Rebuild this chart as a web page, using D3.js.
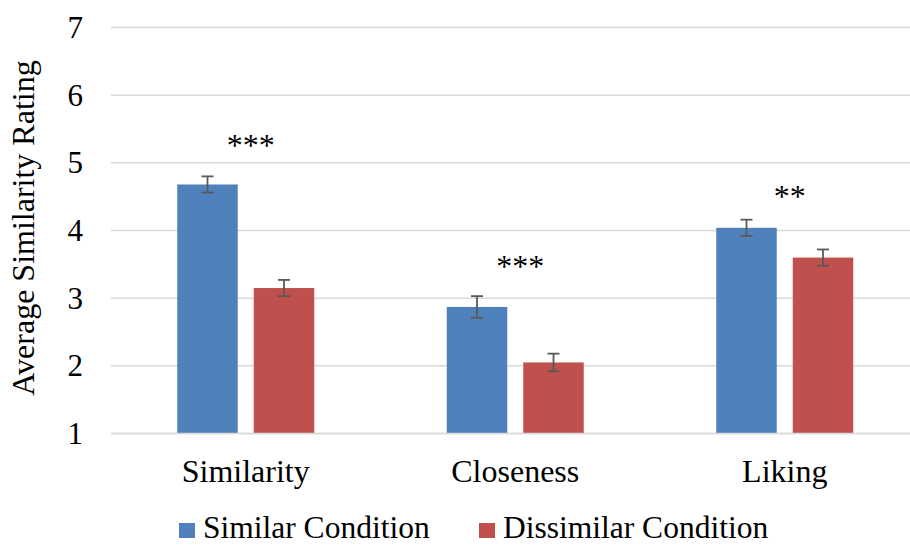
<!DOCTYPE html>
<html>
<head>
<meta charset="utf-8">
<script src="https://cdn.jsdelivr.net/npm/d3@7"></script>
<style>
  html, body { margin: 0; padding: 0; background: #ffffff; }
  svg { display: block; }
  text { font-family: "Liberation Serif", "Times New Roman", serif; fill: #000; }
</style>
</head>
<body>
<svg id="chart" width="910" height="546"></svg>
<script>
const categories = ["Similarity", "Closeness", "Liking"];
const seriesNames = ["Similar Condition", "Dissimilar Condition"];
const similarValues = [4.68, 2.87, 4.04];
const dissimilarValues = [3.15, 2.05, 3.60];
const similarErrors = [0.12, 0.16, 0.12];
const dissimilarErrors = [0.12, 0.13, 0.12];
const sigLabels = ["***", "***", "**"];
const sigY = [5.10, 3.31, 4.35];
const yTicks = [1, 2, 3, 4, 5, 6, 7];
const yTitle = "Average Similarity Rating";
const colors = ["#4f81bd", "#c0504d"];

const svg = d3.select("#chart");
const left = 111, step = 269.5;
const x0 = d3.scaleBand().domain(categories).range([left, left + step * categories.length]).padding(0);
const groupW = 137;
const x1 = d3.scaleBand().domain(seriesNames)
  .range([(step - groupW) / 2, (step + groupW) / 2]).paddingInner(16 / 76.5).paddingOuter(0);
const y = d3.scaleLinear().domain([1, 7]).range([433.5, 27.5]);

// gridlines
svg.append("g").selectAll("line").data(yTicks).join("line")
  .attr("x1", left).attr("x2", 910)
  .attr("y1", d => y(d)).attr("y2", d => y(d))
  .attr("stroke", "#d9d9d9").attr("stroke-width", 1.5);

// y tick labels
svg.append("g").selectAll("text").data(yTicks).join("text")
  .attr("x", 83).attr("y", d => y(d)).attr("dy", "0.34em")
  .attr("text-anchor", "end").attr("font-size", 31)
  .text(d => d);

// y title
svg.append("text")
  .attr("transform", "translate(34,228) rotate(-90)")
  .attr("text-anchor", "middle").attr("font-size", 32)
  .text(yTitle);

const rows = categories.map((c, i) => ({
  cat: c,
  vals: [
    { s: seriesNames[0], v: similarValues[i], e: similarErrors[i], c: colors[0] },
    { s: seriesNames[1], v: dissimilarValues[i], e: dissimilarErrors[i], c: colors[1] }
  ]
}));

const groups = svg.append("g").selectAll("g").data(rows).join("g")
  .attr("transform", d => `translate(${x0(d.cat)},0)`);

groups.selectAll("rect").data(d => d.vals).join("rect")
  .attr("x", d => x1(d.s)).attr("width", x1.bandwidth())
  .attr("y", d => y(d.v)).attr("height", d => y(1) - y(d.v))
  .attr("fill", d => d.c);

// redraw baseline over bars
svg.append("line").attr("x1", left).attr("x2", 910)
  .attr("y1", y(1)).attr("y2", y(1)).attr("stroke", "#d9d9d9").attr("stroke-width", 1.5);

// error bars
const eb = groups.selectAll("g.err").data(d => d.vals).join("g").attr("class", "err")
  .attr("stroke", "#595959").attr("stroke-width", 1.8);
eb.append("line")
  .attr("x1", d => x1(d.s) + x1.bandwidth() / 2).attr("x2", d => x1(d.s) + x1.bandwidth() / 2)
  .attr("y1", d => y(d.v + d.e)).attr("y2", d => y(d.v - d.e));
eb.append("line")
  .attr("x1", d => x1(d.s) + x1.bandwidth() / 2 - 6).attr("x2", d => x1(d.s) + x1.bandwidth() / 2 + 6)
  .attr("y1", d => y(d.v + d.e)).attr("y2", d => y(d.v + d.e));
eb.append("line")
  .attr("x1", d => x1(d.s) + x1.bandwidth() / 2 - 6).attr("x2", d => x1(d.s) + x1.bandwidth() / 2 + 6)
  .attr("y1", d => y(d.v - d.e)).attr("y2", d => y(d.v - d.e));

// significance labels
svg.append("g").selectAll("text").data(categories).join("text")
  .attr("x", d => x0(d) + step / 2 + 5).attr("y", (d, i) => y(sigY[i]))
  .attr("text-anchor", "middle").attr("font-size", 32)
  .text((d, i) => sigLabels[i]);

// category labels
svg.append("g").selectAll("text").data(categories).join("text")
  .attr("x", d => x0(d) + step / 2).attr("y", 482)
  .attr("text-anchor", "middle").attr("font-size", 32)
  .text(d => d);

// legend
const legendX = [179, 479];
const lg = svg.append("g").selectAll("g").data(seriesNames).join("g")
  .attr("transform", (d, i) => `translate(${legendX[i]},0)`);
lg.append("rect").attr("x", 0).attr("y", 523).attr("width", 16).attr("height", 15)
  .attr("fill", (d, i) => colors[i]);
lg.append("text").attr("x", 24).attr("y", 538).attr("font-size", 31.5).text(d => d);
</script>
</body>
</html>
